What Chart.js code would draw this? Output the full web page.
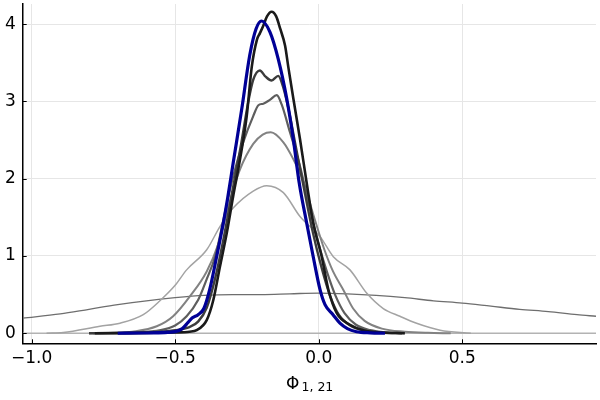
<!DOCTYPE html>
<html>
<head>
<meta charset="utf-8">
<script src="https://cdn.jsdelivr.net/npm/chart.js@4.4.0/dist/chart.umd.min.js"></script>
<style>
  html, body { margin: 0; padding: 0; background: #fff; }
  #wrap { width: 600px; height: 400px; }
</style>
</head>
<body>
<div id="wrap"><canvas id="densityChart" width="600" height="400"></canvas></div>
<script>
// tick positions
const xTicks = [-1.0, -0.5, 0.0, 0.5];
const yTicks = [0, 1, 2, 3, 4];

// flat line along zero
const zeroX = [-1.031, 0.966];
const zeroY = [0, 0];

// wide, nearly flat density
const wideX = [-1.031, -0.9, -0.8, -0.7, -0.6, -0.5, -0.4, -0.3, -0.2, -0.1, 0.0, 0.1, 0.2, 0.3, 0.4, 0.5, 0.6, 0.7, 0.8, 0.9, 0.966];
const wideY = [0.195, 0.25, 0.31, 0.37, 0.42, 0.46, 0.49, 0.5, 0.5, 0.51, 0.52, 0.51, 0.49, 0.46, 0.42, 0.39, 0.35, 0.31, 0.28, 0.24, 0.22];

// light grey
const lightX = [-0.948, -0.89, -0.762, -0.692, -0.611, -0.553, -0.5, -0.46, -0.39, -0.344, -0.298, -0.228, -0.181, -0.123, -0.065, 0.005, 0.051, 0.109, 0.167, 0.225, 0.283, 0.341, 0.423, 0.53];
const lightY = [0, 0.01, 0.09, 0.13, 0.24, 0.42, 0.62, 0.82, 1.08, 1.38, 1.62, 1.84, 1.91, 1.82, 1.51, 1.25, 0.99, 0.82, 0.52, 0.32, 0.22, 0.13, 0.04, 0];

// mid grey
const midX = [-0.786, -0.7, -0.65, -0.564, -0.507, -0.448, -0.39, -0.35, -0.31, -0.274, -0.228, -0.195, -0.167, -0.123, -0.088, -0.054, -0.02, 0.02, 0.05, 0.086, 0.12, 0.16, 0.22, 0.30, 0.38, 0.46];
const midY = [0, 0.005, 0.02, 0.09, 0.22, 0.48, 0.8, 1.15, 1.7, 2.12, 2.45, 2.57, 2.6, 2.47, 2.25, 1.97, 1.55, 1.08, 0.8, 0.56, 0.32, 0.16, 0.06, 0.02, 0.005, 0];

// dark grey
const darkX = [-0.80, -0.65, -0.55, -0.5, -0.46, -0.42, -0.39, -0.36, -0.33, -0.30, -0.263, -0.228, -0.21, -0.193, -0.17, -0.146, -0.129, -0.10, -0.065, -0.03, 0.0, 0.03, 0.057, 0.09, 0.13, 0.18, 0.24, 0.30];
const darkY = [0, 0.01, 0.04, 0.1, 0.22, 0.43, 0.7, 1.0, 1.5, 2.0, 2.47, 2.81, 2.95, 2.97, 3.02, 3.08, 2.96, 2.6, 2.16, 1.6, 1.15, 0.78, 0.5, 0.26, 0.11, 0.04, 0.01, 0];

// darker grey
const darkerX = [-0.80, -0.6, -0.5, -0.45, -0.42, -0.39, -0.36, -0.33, -0.30, -0.27, -0.245, -0.228, -0.205, -0.185, -0.164, -0.141, -0.125, -0.105, -0.08, -0.05, -0.02, 0.01, 0.04, 0.07, 0.11, 0.16, 0.22, 0.29];
const darkerY = [0, 0.01, 0.04, 0.08, 0.15, 0.33, 0.72, 1.25, 1.85, 2.45, 3.0, 3.28, 3.4, 3.32, 3.27, 3.33, 3.2, 2.9, 2.42, 1.85, 1.3, 0.85, 0.48, 0.24, 0.1, 0.035, 0.01, 0];

// near black
const blackX = [-0.78, -0.6, -0.5, -0.45, -0.425, -0.39, -0.367, -0.344, -0.32, -0.298, -0.274, -0.251, -0.233, -0.215, -0.205, -0.193, -0.18, -0.164, -0.148, -0.134, -0.117, -0.106, -0.088, -0.065, -0.042, -0.019, 0.01, 0.034, 0.063, 0.109, 0.155, 0.22, 0.30];
const blackY = [0, 0.005, 0.01, 0.02, 0.04, 0.17, 0.43, 0.86, 1.3, 1.77, 2.25, 2.8, 3.45, 3.8, 3.88, 3.98, 4.1, 4.16, 4.1, 3.94, 3.72, 3.45, 3.03, 2.51, 1.95, 1.43, 1.0, 0.56, 0.26, 0.11, 0.04, 0.01, 0];

// blue (final)
const blueX = [-0.70, -0.60, -0.50, -0.475, -0.455, -0.44, -0.42, -0.40, -0.38, -0.355, -0.332, -0.317, -0.298, -0.268, -0.24, -0.218, -0.199, -0.17, -0.141, -0.111, -0.088, -0.068, -0.042, -0.019, 0.005, 0.022, 0.05, 0.074, 0.10, 0.132, 0.18, 0.231];
const blueY = [0, 0.003, 0.02, 0.06, 0.14, 0.2, 0.24, 0.32, 0.56, 1.0, 1.43, 1.75, 2.2, 2.9, 3.6, 3.94, 4.04, 3.9, 3.55, 3.03, 2.5, 1.95, 1.43, 0.99, 0.56, 0.37, 0.24, 0.13, 0.06, 0.02, 0.005, 0];

const FONT = "'DejaVu Sans', sans-serif";

function pts(xs, ys) {
    return xs.map((x, i) => ({ x: x, y: ys[i] }));
}

function series(xs, ys, color, width, order) {
    return {
        data: pts(xs, ys),
        borderColor: color,
        borderWidth: width,
        pointRadius: 0,
        showLine: true,
        fill: false,
        cubicInterpolationMode: 'monotone',
        order: order
    };
}

function fmt(v) {
    return v.toFixed(1).replace('-', '\u2212');
}

// small ticks pointing into the plot + the x axis label with subscript
const extras = {
    id: 'extras',
    afterDraw(chart) {
        const ctx = chart.ctx;
        const xs = chart.scales.x, ys = chart.scales.y;
        const area = chart.chartArea;
        ctx.save();
        ctx.strokeStyle = '#000';
        ctx.lineWidth = 1;
        xTicks.forEach(v => {
            const px = Math.round(xs.getPixelForValue(v)) + 0.5;
            ctx.beginPath();
            ctx.moveTo(px, area.bottom);
            ctx.lineTo(px, area.bottom - 4);
            ctx.stroke();
        });
        yTicks.forEach(v => {
            const py = Math.round(ys.getPixelForValue(v)) + 0.5;
            ctx.beginPath();
            ctx.moveTo(area.left, py);
            ctx.lineTo(area.left + 4, py);
            ctx.stroke();
        });
        ctx.fillStyle = '#000';
        ctx.textBaseline = 'alphabetic';
        ctx.textAlign = 'left';
        ctx.font = '17px ' + FONT;
        ctx.fillText('\u03A6', 286, 389);
        ctx.font = '12.5px ' + FONT;
        ctx.fillText('1, 21', 301.5, 391);
        ctx.restore();
    }
};

new Chart(document.getElementById('densityChart').getContext('2d'), {
    type: 'scatter',
    data: {
        datasets: [
            series(blueX, blueY, '#000096', 3.2, 0),
            series(blackX, blackY, '#1a1a1a', 2.6, 1),
            series(darkerX, darkerY, '#3c3c3c', 2.4, 2),
            series(darkX, darkY, '#5e5e5e', 2.2, 3),
            series(midX, midY, '#828282', 2, 4),
            series(lightX, lightY, '#a3a3a3', 1.5, 5),
            series(wideX, wideY, '#6e6e6e', 1.3, 6),
            series(zeroX, zeroY, '#b3b3b3', 1.3, 7)
        ]
    },
    options: {
        responsive: false,
        animation: { duration: 0 },
        layout: { padding: { top: 4, right: 4, left: 0, bottom: 0 } },
        plugins: {
            legend: { display: false },
            tooltip: { enabled: false }
        },
        scales: {
            x: {
                type: 'linear',
                min: -1.031,
                max: 0.966,
                afterBuildTicks: s => { s.ticks = xTicks.map(v => ({ value: v })); },
                afterFit: s => { s.height = 56.7; s.paddingLeft = 0; s.paddingRight = 0; },
                grid: { color: '#e6e6e6', lineWidth: 1, drawTicks: false },
                border: { display: true, color: '#000', width: 1.5 },
                ticks: {
                    color: '#000',
                    font: { family: FONT, size: 17 },
                    padding: 5,
                    maxRotation: 0,
                    callback: v => fmt(v)
                }
            },
            y: {
                type: 'linear',
                min: -0.13,
                max: 4.26,
                afterBuildTicks: s => { s.ticks = yTicks.map(v => ({ value: v })); },
                afterFit: s => { s.width = 22.7; s.paddingTop = 0; s.paddingBottom = 0; },
                grid: { color: '#e6e6e6', lineWidth: 1, drawTicks: false },
                border: { display: true, color: '#000', width: 1.5 },
                ticks: {
                    color: '#000',
                    font: { family: FONT, size: 17 },
                    padding: 7,
                    callback: v => String(v)
                }
            }
        }
    },
    plugins: [extras]
});
</script>
</body>
</html>
